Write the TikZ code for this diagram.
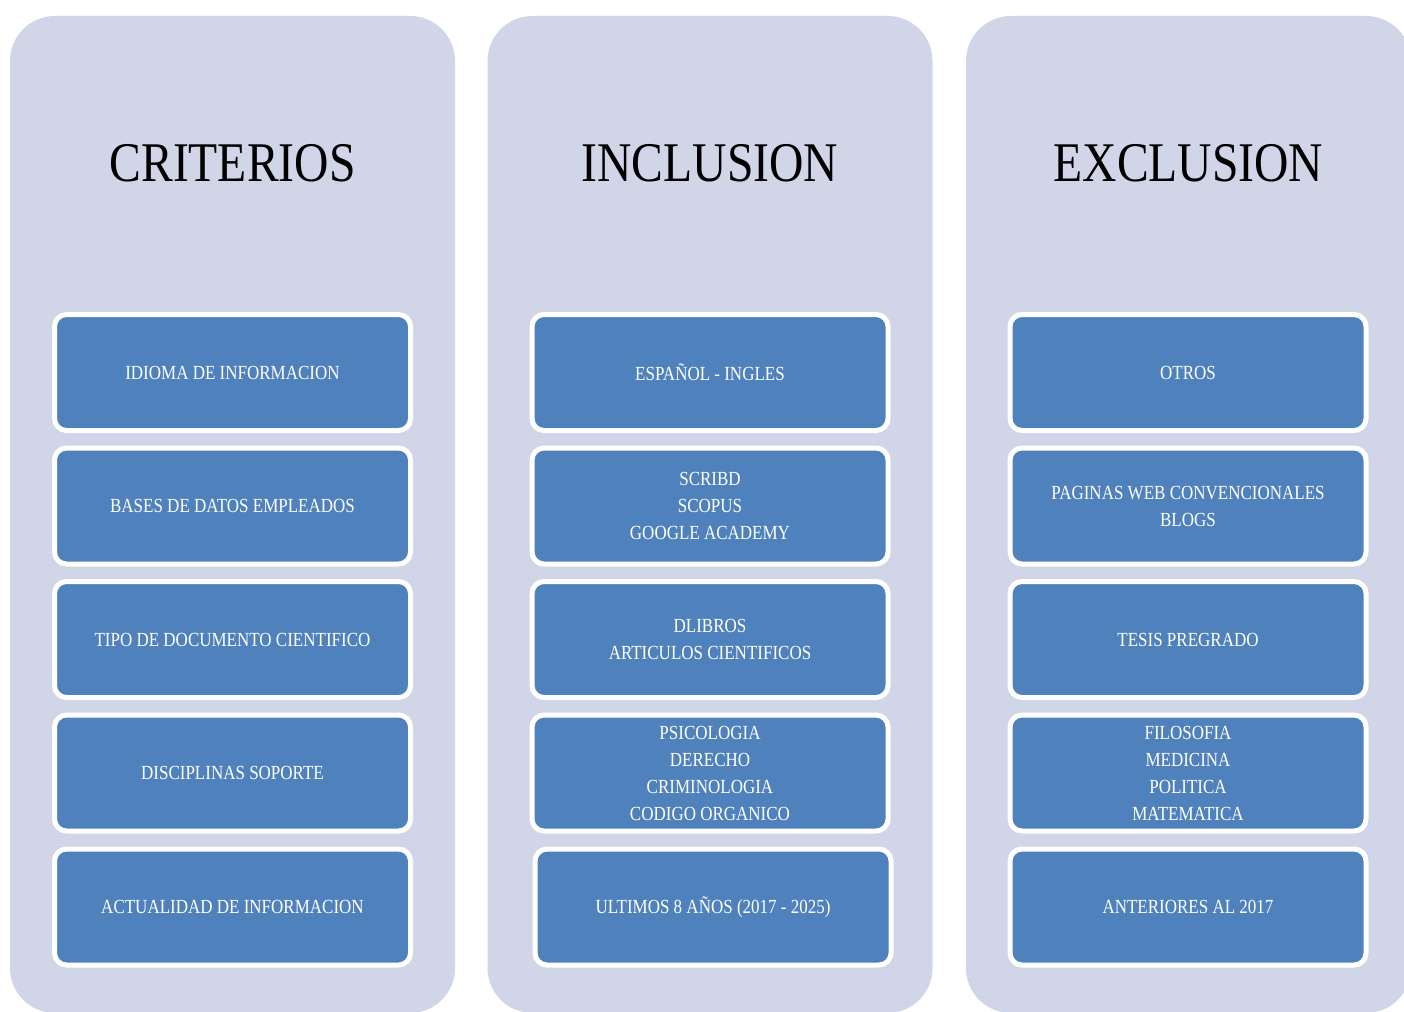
\documentclass[tikz,border=0pt]{standalone}
\usepackage{fontspec}
\setmainfont{Liberation Serif}[FakeStretch=0.85]
\definecolor{colbg}{HTML}{D0D5E8}
\definecolor{boxblue}{HTML}{4F81BD}
\tikzset{
  column/.style={fill=colbg, draw=none, rounded corners=45pt, minimum width=445pt, minimum height=997pt, inner sep=0pt},
  title/.style={anchor=base, text=black, font=\fontsize{56}{60}\selectfont, inner sep=0pt},
  itembox/.style={draw=white, line width=5pt, fill=boxblue, rounded corners=12pt,
    minimum width=356pt, minimum height=116pt, inner sep=0pt, align=center,
    text=white, font=\fontsize{20}{27}\selectfont}
}
\begin{document}
\begin{tikzpicture}[x=1pt,y=-1pt]
\useasboundingbox (0,0) rectangle (1404,1011);
\clip (0,0) rectangle (1404,1011);
\fill[white] (0,0) rectangle (1404,1011);
% columns
\node[column] (c1) at (232.5,514.5) {};
\node[column] (c2) at (710,514.5) {};
\node[column] (c3) at (1188.5,514.5) {};
% titles
\node[title] (t1) at (232.5,182) {CRITERIOS};
\node[title] (t2) at (710,182) {INCLUSION};
\node[title] (t3) at (1188.5,182) {EXCLUSION};
% column 1
\node[itembox] (a1) at (232.5,372.5) {IDIOMA DE INFORMACION};
\node[itembox] (a2) at (232.5,506) {BASES DE DATOS EMPLEADOS};
\node[itembox] (a3) at (232.5,639.5) {TIPO DE DOCUMENTO CIENTIFICO};
\node[itembox] (a4) at (232.5,773) {DISCIPLINAS SOPORTE};
\node[itembox] (a5) at (232.5,907) {ACTUALIDAD DE INFORMACION};
% column 2
\node[itembox] (b1) at (710,372.5) {ESPAÑOL - INGLES};
\node[itembox] (b2) at (710,506) {SCRIBD\\SCOPUS\\GOOGLE ACADEMY};
\node[itembox] (b3) at (710,639.5) {DLIBROS\\ARTICULOS CIENTIFICOS};
\node[itembox] (b4) at (710,773) {PSICOLOGIA\\DERECHO\\CRIMINOLOGIA\\CODIGO ORGANICO};
\node[itembox] (b5) at (713,907) {ULTIMOS 8 AÑOS (2017 - 2025)};
% column 3
\node[itembox] (e1) at (1188,372.5) {OTROS};
\node[itembox] (e2) at (1188,506) {PAGINAS WEB CONVENCIONALES\\BLOGS};
\node[itembox] (e3) at (1188,639.5) {TESIS PREGRADO};
\node[itembox] (e4) at (1188,773) {FILOSOFIA\\MEDICINA\\POLITICA\\MATEMATICA};
\node[itembox] (e5) at (1188,907) {ANTERIORES AL 2017};
\end{tikzpicture}
\end{document}
